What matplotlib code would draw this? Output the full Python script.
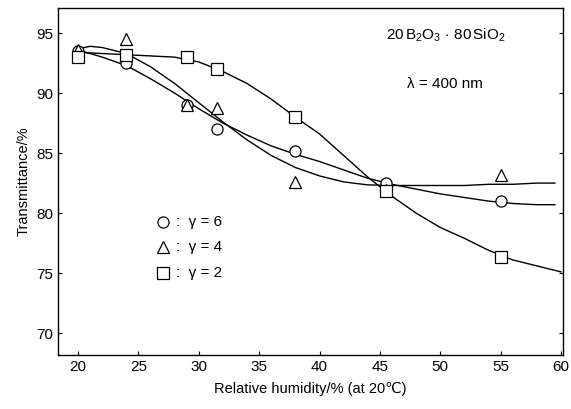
import numpy as np
import matplotlib.pyplot as plt

plt.rcParams['font.family'] = ['Liberation Sans', 'DejaVu Sans']
plt.rcParams['mathtext.fontset'] = 'custom'
plt.rcParams['mathtext.rm'] = 'Liberation Sans'
plt.rcParams['mathtext.it'] = 'Liberation Sans:italic'

# measured points
rh = [20, 24, 29, 31.5, 38, 45.5, 55]
t_r6 = [93.5, 92.5, 89.0, 87.0, 85.2, 82.5, 81.0]
t_r4 = [93.6, 94.5, 89.0, 88.8, 82.6, 81.9, 83.2]
t_r2 = [93.0, 93.2, 93.0, 92.0, 88.0, 81.8, 76.3]

# fitted curves
fit_x = [20, 21, 22, 24, 26, 28, 30, 32, 34, 36, 38, 40, 42, 44, 46, 48, 50, 52, 54, 56, 58, 59.5]
fit_r6 = [93.6, 93.3, 93.0, 92.3, 91.2, 90.0, 88.7, 87.5, 86.5, 85.6, 84.9, 84.3, 83.6, 82.9, 82.4,
          82.0, 81.6, 81.3, 81.0, 80.8, 80.7, 80.7]
fit_r4 = [93.7, 93.9, 93.8, 93.3, 92.2, 90.8, 89.2, 87.6, 86.1, 84.8, 83.8, 83.1, 82.6, 82.35, 82.3,
          82.3, 82.3, 82.3, 82.4, 82.4, 82.5, 82.5]
fit_r2_x = [20, 22, 24, 26, 28, 30, 32, 34, 36, 38, 40, 42, 44, 46, 48, 50, 52, 54, 56, 58, 60]
fit_r2 = [93.4, 93.3, 93.2, 93.1, 93.0, 92.6, 91.8, 90.8, 89.5, 88.0, 86.6, 84.8, 83.0, 81.4,
          80.0, 78.8, 77.9, 76.9, 76.1, 75.6, 75.1]

fig = plt.figure(figsize=(5.71, 4.09), dpi=100)
ax = fig.add_axes([0.1016, 0.132, 0.8844, 0.848])

lw = 1.0
ax.plot(fit_x, fit_r6, color='black', lw=lw)
ax.plot(fit_x, fit_r4, color='black', lw=lw)
ax.plot(fit_r2_x, fit_r2, color='black', lw=lw)

mk = dict(ls='none', mfc='white', mec='black', mew=0.9, ms=8)
ax.plot(rh, t_r6, marker='o', **mk)
ax.plot(rh, t_r4, marker='^', **mk)
ax.plot(rh, t_r2, marker='s', **mk)

ax.set_xlim(18.34, 60.17)
ax.set_ylim(68.17, 97.08)
ax.set_xticks([20, 25, 30, 35, 40, 45, 50, 55, 60])
ax.set_yticks([70, 75, 80, 85, 90, 95])
ax.tick_params(direction='in', length=3, width=0.8, labelsize=11, right=True)
for s in ax.spines.values():
    s.set_linewidth(1.0)

ax.set_xlabel('Relative humidity/% (at 20\u2103)', fontsize=10.5, labelpad=6)
ax.set_ylabel('Transmittance/%', fontsize=10.5, labelpad=4)

ax.text(50.5, 94.8, r'20$\,$B$_2$O$_3$$\,\cdot\,$80$\,$SiO$_2$', fontsize=11, ha='center', va='center')
ax.text(50.4, 90.8, '\u03bb = 400 nm', fontsize=11, ha='center', va='center')

# legend drawn by hand
leg_y = [79.25, 77.17, 75.0]
leg_m = ['o', '^', 's']
leg_t = [':  \u03b3 = 6', ':  \u03b3 = 4', ':  \u03b3 = 2']
for y, m, t in zip(leg_y, leg_m, leg_t):
    ax.plot([27.0], [y], marker=m, **mk)
    ax.text(28.1, y, t, fontsize=11, va='center', ha='left')

fig.savefig('out.png', dpi=100)
